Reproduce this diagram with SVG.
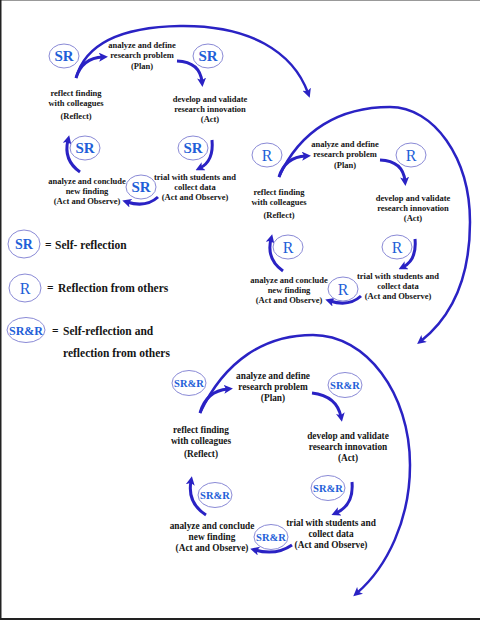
<svg xmlns="http://www.w3.org/2000/svg" width="480" height="620" viewBox="0 0 480 620">
<style>
.lbl{font-family:"Liberation Serif","Times New Roman",serif;font-weight:bold;font-size:8.5px;fill:#151515;text-anchor:middle}
.l3{font-size:9.3px}
.ring{fill:#fff;stroke:#8a8ad6;stroke-width:1}
.cl{font-family:"Liberation Serif","Times New Roman",serif;fill:#1f5fd8;text-anchor:middle}
.sr{font-size:15px;font-weight:bold}
.r{font-size:16px}
.srr{font-size:10.5px;font-weight:bold}
.arr{fill:none;stroke:#2a22c4;stroke-width:3;marker-end:url(#ah)}
.big{stroke-width:2.5}
.leg{font-family:"Liberation Serif","Times New Roman",serif;font-weight:bold;font-size:11.5px;fill:#151515}
</style>
<defs>
<marker id="ah" viewBox="0 0 10 10" refX="4.5" refY="5" markerWidth="9" markerHeight="9" markerUnits="userSpaceOnUse" orient="auto">
<path d="M0,0 L10,5 L0,10 L2.5,5 z" fill="#2a22c4"/>
</marker>
</defs>
<rect x="0" y="0" width="480" height="620" fill="#fff"/>
<line x1="0" y1="0.5" x2="480" y2="0.5" stroke="#999" stroke-width="1"/>
<line x1="0.75" y1="0" x2="0.75" y2="620" stroke="#222" stroke-width="1.5"/>
<line x1="0" y1="619" x2="480" y2="619" stroke="#222" stroke-width="2"/>

<g id="connectors">
<path class="arr" d="M76,78 Q82,58 103,57"/>
<path class="arr" d="M177,61 Q200,62 202,82"/>
<path class="arr" d="M212,140 Q214,161 200,168"/>
<path class="arr" d="M158,197 Q146,208 127,202"/>
<path class="arr" d="M80,172 Q63,160 68,140"/>
<path class="arr big" d="M76,78 C85,45 120,27 180,26 C250,25 293,52 308,93"/>
<g transform="translate(203,99)">
<path class="arr" d="M76,78 Q82,58 103,57"/>
<path class="arr" d="M177,61 Q200,62 202,82"/>
<path class="arr" d="M212,140 Q214,161 200,168"/>
<path class="arr" d="M158,197 Q146,208 127,202"/>
<path class="arr" d="M80,172 Q63,160 68,140"/>
</g>
<path class="arr big" d="M279,177 C300,130 340,107 390,107 C434,107 470,158 470,222 C470,280 450,318 421,341"/>
<path class="arr" d="M200,413 Q206,391 228,389"/>
<path class="arr" d="M312,393 Q337,396 341,417"/>
<path class="arr" d="M352,482 Q354,505 336,513"/>
<path class="arr" d="M292,545 Q276,556 255,550"/>
<path class="arr" d="M206,515 Q187,503 191,481"/>
<path class="arr big" d="M200,413 C225,360 265,335 313,335 C366,335 410,393 410,465 C410,520 387,567 357,593"/>
</g>

<!-- Section 1 -->
<g id="s1-c1"><ellipse class="ring" cx="64" cy="56" rx="15" ry="12"/><text class="cl sr" x="64" y="61">SR</text></g>
<g id="s1-plan"><text class="lbl" x="142" y="48">analyze and define</text><text class="lbl" x="142" y="58">research problem</text><text class="lbl" x="142" y="69">(Plan)</text></g>
<g id="s1-c2"><ellipse class="ring" cx="208" cy="56" rx="15" ry="12"/><text class="cl sr" x="208" y="61">SR</text></g>
<g id="s1-act"><text class="lbl" x="210" y="102">develop and validate</text><text class="lbl" x="210" y="112">research innovation</text><text class="lbl" x="210" y="122">(Act)</text></g>
<g id="s1-c3"><ellipse class="ring" cx="193" cy="148" rx="15" ry="12"/><text class="cl sr" x="193" y="153">SR</text></g>
<g id="s1-trial"><text class="lbl" x="195" y="180">trial with students and</text><text class="lbl" x="195" y="190">collect data</text><text class="lbl" x="195" y="200">(Act and Observe)</text></g>
<g id="s1-c4"><ellipse class="ring" cx="141" cy="187" rx="15" ry="12"/><text class="cl sr" x="141" y="192">SR</text></g>
<g id="s1-conclude"><text class="lbl" x="87" y="184">analyze and conclude</text><text class="lbl" x="87" y="194">new finding</text><text class="lbl" x="87" y="204">(Act and Observe)</text></g>
<g id="s1-c5"><ellipse class="ring" cx="85" cy="148" rx="15" ry="12"/><text class="cl sr" x="85" y="153">SR</text></g>
<g id="s1-reflect"><text class="lbl" x="76" y="96">reflect finding</text><text class="lbl" x="76" y="106">with colleagues</text><text class="lbl" x="76" y="119">(Reflect)</text></g>

<!-- Section 2 -->
<g transform="translate(203,99)">
<g id="s2-c1"><ellipse class="ring" cx="64" cy="56" rx="15" ry="12"/><text class="cl r" x="64" y="61.5">R</text></g>
<g id="s2-plan"><text class="lbl" x="142" y="48">analyze and define</text><text class="lbl" x="142" y="58">research problem</text><text class="lbl" x="142" y="69">(Plan)</text></g>
<g id="s2-c2"><ellipse class="ring" cx="208" cy="56" rx="15" ry="12"/><text class="cl r" x="208" y="61.5">R</text></g>
<g id="s2-act"><text class="lbl" x="210" y="102">develop and validate</text><text class="lbl" x="210" y="112">research innovation</text><text class="lbl" x="210" y="122">(Act)</text></g>
<g id="s2-c3"><ellipse class="ring" cx="194" cy="148" rx="15" ry="12"/><text class="cl r" x="194" y="153.5">R</text></g>
<g id="s2-trial"><text class="lbl" x="195" y="180">trial with students and</text><text class="lbl" x="195" y="190">collect data</text><text class="lbl" x="195" y="200">(Act and Observe)</text></g>
<g id="s2-c4"><ellipse class="ring" cx="140" cy="190" rx="15" ry="12"/><text class="cl r" x="140" y="195.5">R</text></g>
<g id="s2-conclude"><text class="lbl" x="86" y="184">analyze and conclude</text><text class="lbl" x="86" y="194">new finding</text><text class="lbl" x="86" y="204">(Act and Observe)</text></g>
<g id="s2-c5"><ellipse class="ring" cx="85" cy="148" rx="15" ry="12"/><text class="cl r" x="85" y="153.5">R</text></g>
<g id="s2-reflect"><text class="lbl" x="76" y="96">reflect finding</text><text class="lbl" x="76" y="106">with colleagues</text><text class="lbl" x="76" y="119">(Reflect)</text></g>
</g>

<!-- Legend -->
<g id="leg-sr"><ellipse class="ring" cx="24" cy="244" rx="16" ry="14"/><text class="cl" x="24" y="249" font-size="14" font-weight="bold">SR</text><text class="leg" x="45" y="249">=<tspan x="55">Self- reflection</tspan></text></g>
<g id="leg-r"><ellipse class="ring" cx="25" cy="288" rx="16" ry="14"/><text class="cl" x="25" y="293.5" font-size="16">R</text><text class="leg" x="47" y="292">=<tspan x="58">Reflection from others</tspan></text></g>
<g id="leg-srr"><ellipse class="ring" cx="26" cy="330" rx="19" ry="12.5"/><text class="cl" x="26" y="334.5" font-size="12" font-weight="bold">SR&amp;R</text><text class="leg" x="52" y="335">=<tspan x="63">Self-reflection and</tspan></text><text class="leg" x="63" y="357">reflection from others</text></g>

<!-- Section 3 -->
<g id="s3-c1"><ellipse class="ring" cx="189" cy="383" rx="17" ry="12.5"/><text class="cl srr" x="189" y="386.5">SR&amp;R</text></g>
<g id="s3-plan"><text class="lbl l3" x="273" y="379">analyze and define</text><text class="lbl l3" x="273" y="390">research problem</text><text class="lbl l3" x="273" y="401">(Plan)</text></g>
<g id="s3-c2"><ellipse class="ring" cx="345" cy="385" rx="17" ry="12.5"/><text class="cl srr" x="345" y="388.5">SR&amp;R</text></g>
<g id="s3-act"><text class="lbl l3" x="348" y="439">develop and validate</text><text class="lbl l3" x="348" y="450">research innovation</text><text class="lbl l3" x="348" y="461">(Act)</text></g>
<g id="s3-c3"><ellipse class="ring" cx="328" cy="488" rx="17" ry="12.5"/><text class="cl srr" x="328" y="491.5">SR&amp;R</text></g>
<g id="s3-trial"><text class="lbl l3" x="331" y="525.5">trial with students and</text><text class="lbl l3" x="331" y="536.5">collect data</text><text class="lbl l3" x="331" y="548">(Act and Observe)</text></g>
<g id="s3-c4"><ellipse class="ring" cx="271" cy="537" rx="17" ry="12.5"/><text class="cl srr" x="271" y="540.5">SR&amp;R</text></g>
<g id="s3-conclude"><text class="lbl l3" x="212" y="529">analyze and conclude</text><text class="lbl l3" x="212" y="540">new finding</text><text class="lbl l3" x="212" y="551">(Act and Observe)</text></g>
<g id="s3-c5"><ellipse class="ring" cx="215" cy="495" rx="17" ry="12.5"/><text class="cl srr" x="215" y="498.5">SR&amp;R</text></g>
<g id="s3-reflect"><text class="lbl l3" x="201" y="432.5">reflect finding</text><text class="lbl l3" x="201" y="443.5">with colleagues</text><text class="lbl l3" x="201" y="457">(Reflect)</text></g>
</svg>
